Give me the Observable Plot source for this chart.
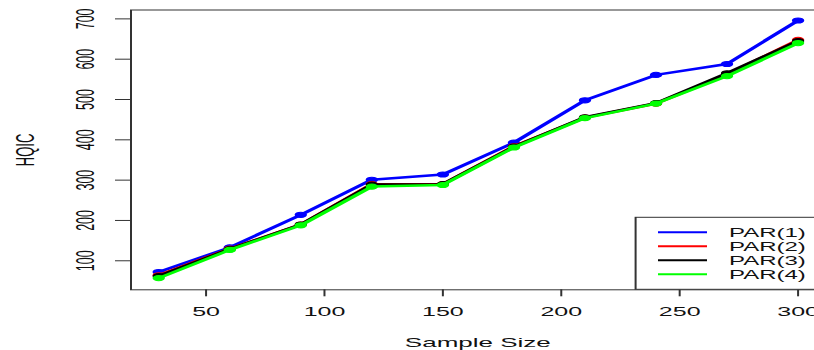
<!DOCTYPE html>
<html>
<head>
<meta charset="utf-8">
<script src="https://cdn.jsdelivr.net/npm/d3@7"></script>
<script src="https://cdn.jsdelivr.net/npm/@observablehq/plot@0.6"></script>
<style>
  html, body { margin: 0; padding: 0; background: white; }
  #chart svg { display: block; }
</style>
</head>
<body>
<div id="chart"></div>
<script>
// ---- data ----
const sampleSize = [30, 60, 90, 120, 150, 180, 210, 240, 270, 300];
const par1 = [72, 133, 214, 301, 314, 393, 498, 561, 588, 696];
const par2 = [64, 130, 190, 290, 290, 384, 455, 490, 562, 648];
const par3 = [62, 129, 190, 289, 290, 383, 456, 491, 565, 645];
const par4 = [57, 127, 188, 284, 288, 381, 454, 490, 558, 640];
const seriesNames = ["PAR(1)", "PAR(2)", "PAR(3)", "PAR(4)"];
const seriesColors = ["#0000ff", "#ff0000", "#000000", "#00ff00"];
const xTicks = [50, 100, 150, 200, 250, 300];
const yTicks = [100, 200, 300, 400, 500, 600, 700];
const xLabel = "Sample Size";
const yLabel = "HQIC";

const seriesValues = [par1, par2, par3, par4];
const table = seriesNames.map((name, i) =>
  sampleSize.map((n, j) => ({series: name, n, v: seriesValues[i][j]})));

// the reference is horizontally stretched ~2x: draw at half width, stretch
const SX = 2;
const W = 814 / SX, H = 350;

const seriesMarks = table.flatMap((rows, i) => [
  Plot.line(rows, {x: "n", y: "v", stroke: seriesColors[i], strokeWidth: 2.5}),
  Plot.dot(rows, {x: "n", y: "v", fill: seriesColors[i], stroke: seriesColors[i], strokeWidth: 1, r: 2.6})
]);

const plot = Plot.plot({
  width: W,
  height: H,
  marginLeft: 65,
  marginRight: -4.8,
  marginTop: 9.5,
  marginBottom: 60.7,
  style: {fontFamily: "'Liberation Sans', Arial, Helvetica, sans-serif", fontSize: "12.5px", background: "white", color: "#222"},
  x: {domain: [18.3, 311.2]},
  y: {domain: [28, 722]},
  marks: [
    ...seriesMarks,
    Plot.frame({stroke: "#333", strokeWidth: 1}),
    Plot.axisX({ticks: xTicks, tickSize: 7, tickPadding: 10, label: null, stroke: "#333", fill: "#111"}),
    Plot.axisY({ticks: yTicks, tickSize: 7.5, tickFormat: () => "", label: null, stroke: "#333"}),
    Plot.text(yTicks, {y: d => d, text: d => String(d), frameAnchor: "left", dx: -22.5, rotate: -90, textAnchor: "middle", lineAnchor: "middle", fill: "#111"}),
    Plot.text([yLabel], {frameAnchor: "left", dx: -52.5, rotate: -90, textAnchor: "middle", lineAnchor: "middle", fill: "#111", fontSize: 13}),
    Plot.text([xLabel], {frameAnchor: "bottom", dy: 57, textAnchor: "middle", lineAnchor: "bottom", fill: "#111", fontSize: 13})
  ]
});

// legend (drawn in the same stretched SVG)
const svg = d3.select(plot);
const lg = svg.append("g")
  .attr("font-family", "'Liberation Sans', Arial, Helvetica, sans-serif")
  .attr("font-size", 12)
  .attr("text-anchor", "start");
lg.append("rect").attr("x", 317.8).attr("y", 217.3).attr("width", 120).attr("height", 72)
  .attr("fill", "white").attr("stroke", "#333").attr("stroke-width", 1);
seriesNames.forEach((name, i) => {
  const y = 232.3 + i * 14;
  lg.append("line").attr("x1", 329).attr("x2", 353.5).attr("y1", y).attr("y2", y)
    .attr("stroke", seriesColors[i]).attr("stroke-width", 2);
  lg.append("text").attr("x", 364.5).attr("y", y).attr("dy", "0.36em")
    .attr("text-anchor", "start").attr("fill", "#111").text(name);
});

plot.setAttribute("width", 814);
plot.setAttribute("height", 350);
plot.setAttribute("preserveAspectRatio", "none");
plot.style.width = "814px";
plot.style.height = "350px";
plot.style.maxWidth = "none";
document.getElementById("chart").appendChild(plot);
</script>
</body>
</html>
